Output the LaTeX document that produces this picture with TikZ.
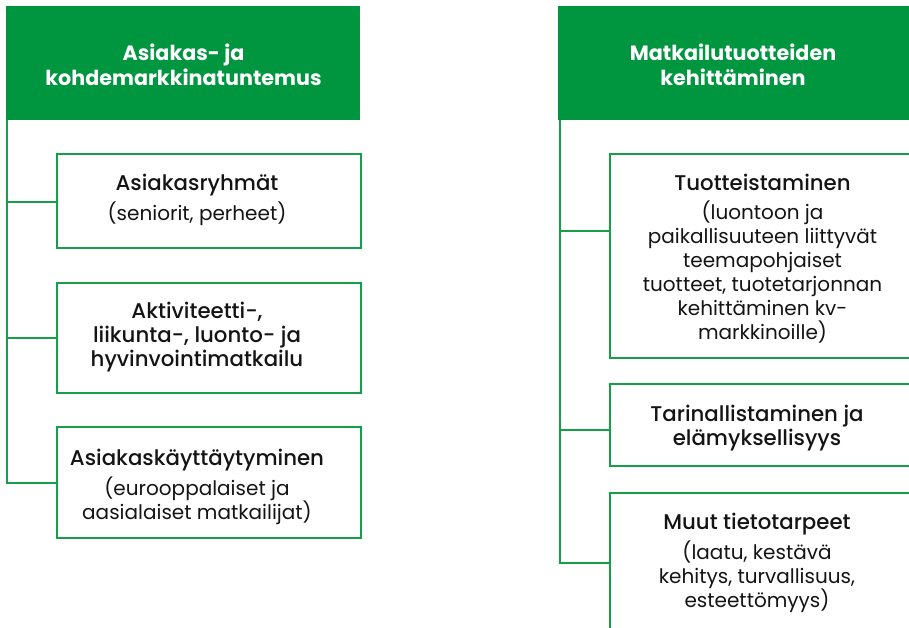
\documentclass[tikz,border=0pt]{standalone}
\usepackage{fontspec}
\setmainfont{Poppins}
\newfontfamily\medfont{Poppins}[UprightFont=* Medium]
\definecolor{hdrgreen}{RGB}{0,150,64}
\definecolor{boxgreen}{RGB}{22,158,72}
\definecolor{txt}{RGB}{20,20,20}
\newcommand{\ttl}[1]{{\medfont\fontsize{21.3}{24}\selectfont #1}}
\begin{document}
\begin{tikzpicture}[x=1pt,y=-1pt,
  hdr/.style={fill=hdrgreen,draw=none,inner sep=0pt,anchor=north west},
  hdrtext/.style={text=white,font=\bfseries\fontsize{20.7}{25}\selectfont,align=center,inner sep=0pt},
  itembox/.style={draw=boxgreen,line width=2pt,inner sep=0pt,anchor=north west},
  itemtext/.style={text=txt,font=\fontsize{20}{24}\selectfont,align=center,inner sep=0pt},
  conn/.style={draw=boxgreen,line width=2pt}]
\useasboundingbox (0,0) rectangle (909,628);
\clip (0,0) rectangle (909,628);
% headers
\node[hdr,minimum width=354pt,minimum height=114pt] (hL) at (6,6) {};
\node[hdr,minimum width=360pt,minimum height=114pt] (hR) at (558,6) {};
\node[hdrtext] (hLt) at (183.5,64.5) {Asiakas- ja\\kohdemarkkinatuntemus};
\node[hdrtext] (hRt) at (733,64.5) {Matkailutuotteiden\\kehittäminen};
% left boxes
\node[itembox,minimum width=304pt,minimum height=94pt] (l1) at (56,153) {};
\node[itembox,minimum width=304pt,minimum height=110pt] (l2) at (56,282) {};
\node[itembox,minimum width=304pt,minimum height=111pt] (l3) at (56,426) {};
% right boxes
\node[itembox,minimum width=330pt,minimum height=204pt] (r1) at (609,153) {};
\node[itembox,minimum width=330pt,minimum height=82pt] (r2) at (609,383) {};
\node[itembox,minimum width=330pt,minimum height=140pt] (r3) at (609,492) {};
% texts
\node[itemtext] (l1t) at (197,199.5) {\ttl{Asiakasryhmät}\\[5pt](seniorit, perheet)};
\node[itemtext] (l2t) at (197,337) {\ttl{Aktiviteetti-,}\\\ttl{liikunta-, luonto- ja}\\\ttl{hyvinvointimatkailu}};
\node[itemtext] (l3t) at (197,487) {\ttl{Asiakaskäyttäytyminen}\\[5pt](eurooppalaiset ja\\aasialaiset matkailijat)};
\node[itemtext] (r1t) at (762.5,259) {\ttl{Tuotteistaminen}\\[5pt](luontoon ja\\paikallisuuteen liittyvät\\teemapohjaiset\\tuotteet, tuotetarjonnan\\kehittäminen kv-\\markkinoille)};
\node[itemtext] (r2t) at (757,428.5) {\ttl{Tarinallistaminen ja}\\\ttl{elämyksellisyys}};
\node[itemtext] (r3t) at (757,563) {\ttl{Muut tietotarpeet}\\[5pt](laatu, kestävä\\kehitys, turvallisuus,\\esteettömyys)};
% connectors
\coordinate (lc1) at ([xshift=1pt]hL.south west);
\coordinate (rc1) at ([xshift=2pt]hR.south west);
\draw[conn] (lc1) |- (l3.west);
\draw[conn] (lc1) |- ([yshift=-1pt]l1.west);
\draw[conn] (lc1) |- (l2.west);
\draw[conn] (rc1) |- (r3.west);
\draw[conn] (rc1) |- ([yshift=25pt]r1.west);
\draw[conn] (rc1) |- ([yshift=-5pt]r2.west);
\end{tikzpicture}
\end{document}
